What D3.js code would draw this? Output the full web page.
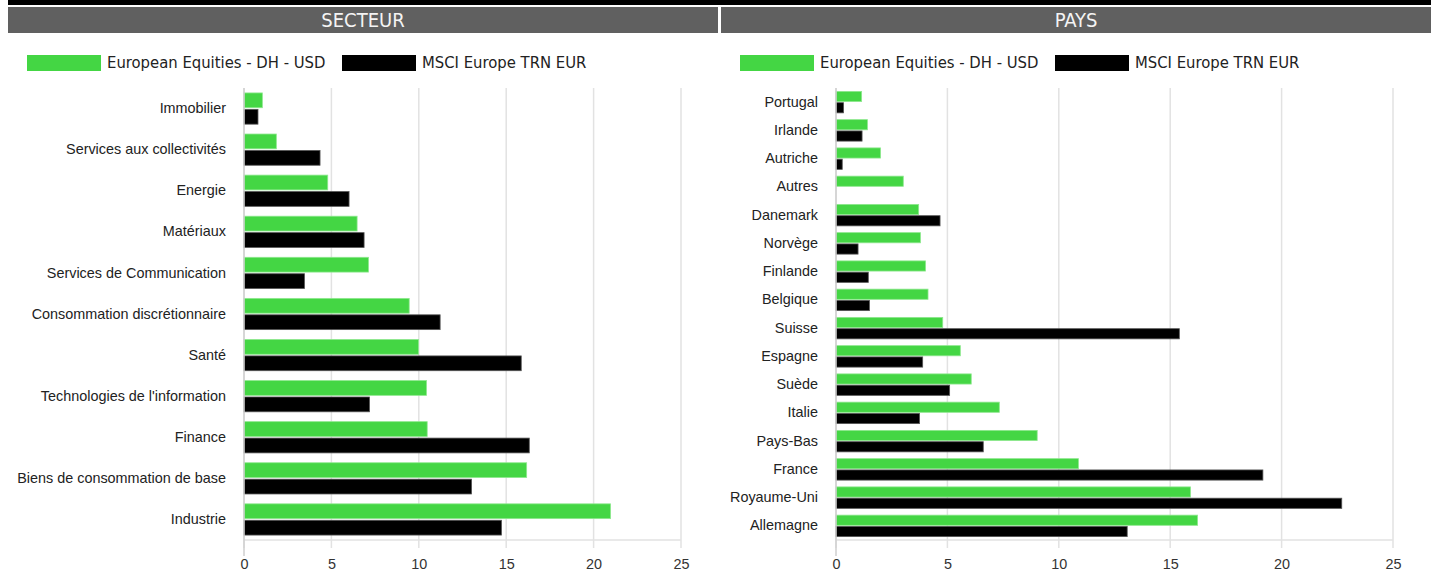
<!DOCTYPE html>
<html>
<head>
<meta charset="utf-8">
<script src="https://cdn.jsdelivr.net/npm/d3@7"></script>
<style>
  html, body { margin: 0; padding: 0; background: #fff; }
  svg { display: block; }
</style>
</head>
<body>
<svg id="chart" width="1431" height="573"></svg>
<script>
// ---- data ----
const seriesNames = ["European Equities - DH - USD", "MSCI Europe TRN EUR"];
const seriesColors = ["#44d644", "#000000"];
const xTicks = [0, 5, 10, 15, 20, 25];

const sectorCategories = ["Immobilier", "Services aux collectivités", "Energie", "Matériaux",
  "Services de Communication", "Consommation discrétionnaire", "Santé",
  "Technologies de l'information", "Finance", "Biens de consommation de base", "Industrie"];
const sectorFund  = [1.05, 1.85, 4.79, 6.47, 7.12, 9.45, 9.98, 10.44, 10.48, 16.17, 20.97];
const sectorIndex = [0.80, 4.35, 6.01, 6.87, 3.46, 11.22, 15.86, 7.18, 16.32, 13.02, 14.73];

const countryCategories = ["Portugal", "Irlande", "Autriche", "Autres", "Danemark", "Norvège",
  "Finlande", "Belgique", "Suisse", "Espagne", "Suède", "Italie", "Pays-Bas", "France",
  "Royaume-Uni", "Allemagne"];
const countryFund  = [1.15, 1.41, 2.00, 3.02, 3.71, 3.79, 4.02, 4.13, 4.79, 5.58, 6.07, 7.33, 9.03, 10.88, 15.91, 16.23];
const countryIndex = [0.34, 1.17, 0.28, 0, 4.67, 0.99, 1.45, 1.50, 15.41, 3.89, 5.10, 3.75, 6.61, 19.16, 22.70, 13.07];

// ---- drawing ----
const svg = d3.select("#chart");

// top black rule
svg.append("rect").attr("x", 8).attr("y", 0).attr("width", 1423).attr("height", 5).attr("fill", "#000");

function panel(opts) {
  const g = svg.append("g");
  // header
  g.append("rect").attr("x", opts.hx).attr("y", 7).attr("width", opts.hw).attr("height", 26).attr("fill", "#606060");
  g.append("text").attr("x", opts.hx + opts.hw / 2).attr("y", 20).attr("dy", "0.36em")
    .attr("text-anchor", "middle").attr("fill", "#f4f4f4")
    .style("font-family", "'DejaVu Sans Condensed', 'DejaVu Sans', sans-serif").style("font-size", "20px")
    .text(opts.title);

  // legend
  const lg = g.append("g");
  seriesNames.forEach((n, i) => {
    const lx = opts.legendX[i];
    lg.append("rect").attr("x", lx).attr("y", 55).attr("width", 74).attr("height", 16)
      .attr("fill", seriesColors[i]);
    lg.append("text").attr("x", lx + 80).attr("y", 62).attr("dy", "0.36em")
      .attr("fill", "#222")
      .style("font-family", "'DejaVu Sans Condensed', 'DejaVu Sans', sans-serif").style("font-size", "16.5px")
      .text(n);
  });

  const x = d3.scaleLinear().domain([0, 25]).range([opts.x0, opts.x1]);
  const y = d3.scaleBand().domain(opts.categories).range([88, 540]).padding(0);
  const bw = y.bandwidth();

  // grid
  g.append("g").selectAll("line").data(xTicks).join("line")
    .attr("x1", d => x(d)).attr("x2", d => x(d))
    .attr("y1", 88).attr("y2", 548)
    .attr("stroke", "#e2e2e2").attr("stroke-width", 1.5);
  // baseline
  g.append("line").attr("x1", x(0)).attr("x2", x(25)).attr("y1", 540).attr("y2", 540)
    .attr("stroke", "#e2e2e2").attr("stroke-width", 1.5);

  // x axis labels
  const xAxis = d3.axisBottom(x).tickValues(xTicks).tickSize(0).tickPadding(0);
  const ax = g.append("g").attr("transform", "translate(0,559)").call(xAxis);
  ax.select(".domain").remove();
  ax.selectAll("text").attr("fill", "#333").attr("dy", "0.71em")
    .style("font-family", "'Liberation Sans', Arial, sans-serif").style("font-size", "14.4px");

  // category labels
  const yAxis = d3.axisLeft(y).tickSize(0).tickPadding(opts.x0 - opts.labelRight);
  const ay = g.append("g").attr("transform", `translate(${opts.x0},0)`).call(yAxis);
  ay.select(".domain").remove();
  ay.selectAll("text").attr("fill", "#222")
    .style("font-family", "'Liberation Sans', Arial, sans-serif").style("font-size", "14.4px");

  // bars
  const rows = opts.categories.map((c, i) => ({ c, v: [opts.fund[i], opts.index[i]] }));
  const bh = bw * 0.36;
  const offs = [bw * 0.12, bw * 0.52];
  [0, 1].forEach(s => {
    g.append("g").selectAll("rect").data(rows.filter(r => r.v[s] > 0)).join("rect")
      .attr("x", x(0))
      .attr("y", r => y(r.c) + offs[s])
      .attr("width", r => x(r.v[s]) - x(0))
      .attr("height", bh)
      .attr("fill", seriesColors[s])
      .attr("stroke", s === 0 ? "#8ee88e" : "#555")
      .attr("stroke-width", 0.8);
  });

  // y axis line
  g.append("line").attr("x1", x(0)).attr("x2", x(0)).attr("y1", 88).attr("y2", 556)
    .attr("stroke", "#cfcfcf").attr("stroke-width", 1.5);
}

panel({
  title: "SECTEUR", hx: 8, hw: 710,
  legendX: [27, 342],
  categories: sectorCategories, fund: sectorFund, index: sectorIndex,
  x0: 244, x1: 681, labelRight: 226
});

panel({
  title: "PAYS", hx: 721, hw: 710,
  legendX: [740, 1055],
  categories: countryCategories, fund: countryFund, index: countryIndex,
  x0: 836, x1: 1393, labelRight: 818
});
</script>
</body>
</html>
